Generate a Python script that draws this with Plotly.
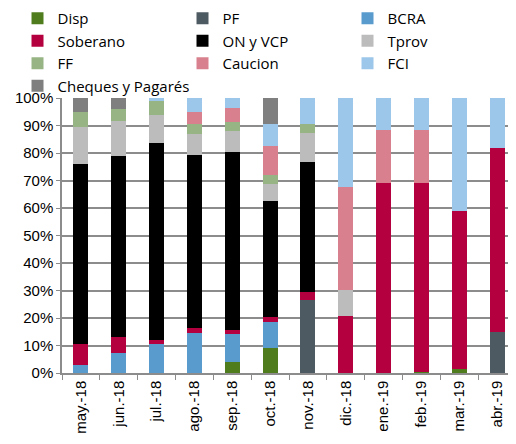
import plotly.graph_objects as go

months = ["may.-18", "jun.-18", "jul.-18", "ago.-18", "sep.-18", "oct.-18",
          "nov.-18", "dic.-18", "ene.-19", "feb.-19", "mar.-19", "abr.-19"]

disp     = [0, 0, 0, 0, 4.0, 9.0, 0, 0, 0, 0.4, 1.3, 0]
pf       = [0, 0, 0, 0, 0, 0, 26.6, 0, 0, 0, 0, 14.8]
bcra     = [2.8, 7.1, 10.7, 14.6, 10.2, 9.6, 0, 0, 0, 0, 0, 0]
soberano = [7.6, 5.9, 1.4, 1.7, 1.5, 1.7, 2.7, 20.9, 69.0, 68.6, 57.5, 66.9]
on_vcp   = [65.5, 65.8, 71.4, 63.0, 64.6, 42.2, 47.5, 0, 0, 0, 0, 0]
tprov    = [13.4, 12.7, 10.4, 7.6, 7.6, 6.4, 10.4, 9.4, 0, 0, 0, 0]
ff       = [5.6, 4.6, 4.9, 3.7, 3.3, 3.1, 3.4, 0, 0, 0, 0, 0]
caucion  = [0, 0, 0, 4.3, 5.3, 10.7, 0, 37.4, 19.3, 19.4, 0, 0]
fci      = [0, 0, 1.2, 5.1, 3.5, 8.0, 9.4, 32.3, 11.7, 11.6, 41.2, 18.3]
cheques  = [5.1, 3.9, 0, 0, 0, 9.3, 0, 0, 0, 0, 0, 0]

series = [
    ("Disp", disp, "#4F7D1E"),
    ("PF", pf, "#4E5A62"),
    ("BCRA", bcra, "#5A9BCD"),
    ("Soberano", soberano, "#B4003E"),
    ("ON y VCP", on_vcp, "#000000"),
    ("Tprov", tprov, "#BCBCBC"),
    ("FF", ff, "#97B584"),
    ("Caucion", caucion, "#D8808D"),
    ("FCI", fci, "#9DC7EA"),
    ("Cheques y Pagarés", cheques, "#7F7F7F"),
]

fig = go.Figure()
for name, vals, color in series:
    fig.add_trace(go.Bar(x=months, y=[v / 100 for v in vals], name=name,
                         marker=dict(color=color, line=dict(width=0))))

fig.update_layout(
    barmode="stack",
    bargap=0.6,
    width=508, height=436,
    margin=dict(l=54, r=0, t=90, b=71, autoexpand=False),
    paper_bgcolor="white", plot_bgcolor="white",
    font=dict(family="Open Sans, sans-serif", size=14, color="#000000"),
    legend=dict(orientation="h", x=-0.098, y=1.0 + 96 / 275, xref="paper", yref="paper",
                xanchor="left", yanchor="top", entrywidth=120, traceorder="normal",
                font=dict(family="Open Sans, sans-serif", size=15),
                itemsizing="constant", tracegroupgap=0, bgcolor="rgba(0,0,0,0)"),
    showlegend=True,
)
fig.update_xaxes(
    type="category", tickangle=-90, tickson="boundaries", ticks="outside",
    ticklen=5, tickcolor="#8C8C8C", showline=True, linecolor="#8C8C8C", linewidth=1.5,
    tickfont=dict(family="Liberation Sans, Arial, sans-serif", size=15),
    showgrid=False,
)
fig.update_yaxes(
    range=[0, 1], tickformat=".0%", dtick=0.1, ticks="outside", ticklen=4,
    tickcolor="#8C8C8C", showline=True, linecolor="#8C8C8C", linewidth=1.5,
    gridcolor="#8C8C8C", gridwidth=1.5,
    tickfont=dict(family="Liberation Sans, Arial, sans-serif", size=15),
    zeroline=False,
)

fig.write_html("out.html")
